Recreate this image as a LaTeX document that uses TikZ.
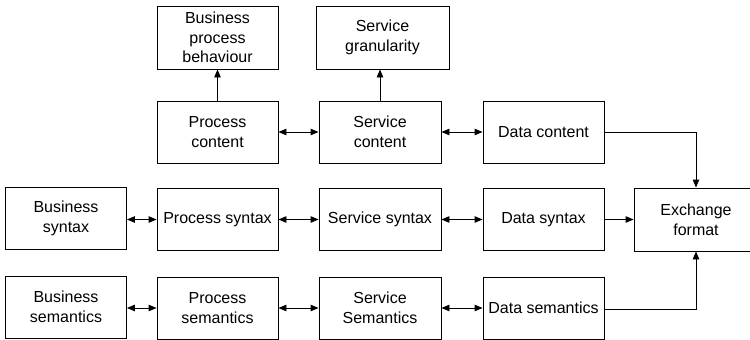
\documentclass[tikz,border=0pt]{standalone}
\usepackage{fontspec}
\setmainfont{Liberation Sans}
\usetikzlibrary{arrows.meta}

\begin{document}
\begin{tikzpicture}[x=1pt,y=-1pt,
  box/.style={draw, line width=0.9pt, inner sep=0pt, align=center,
    minimum width=121pt, minimum height=62pt,
    font=\fontsize{16}{19.6}\selectfont},
  link/.style={line width=0.9pt, {Triangle[length=8pt,width=6.5pt]}-{Triangle[length=8pt,width=6.5pt]}},
  feed/.style={line width=0.9pt, -{Triangle[length=8pt,width=6.5pt]}}]
  \useasboundingbox (0,0) rectangle (750,340);
  \clip (0,0) rectangle (750,340);

  % top row
  \node[box, minimum height=63pt] (bpb) at (217.5,37.5) {Business\\process\\behaviour};
  \node[box, minimum width=133pt, minimum height=63pt] (sg) at (382.5,37.5) {Service\\granularity};

  % content row
  \node[box] (pc) at (217.5,132) {Process\\content};
  \node[box, minimum width=122pt] (sc) at (380,132) {Service\\content};
  \node[box] (dc) at (543.5,132) {Data content};

  % syntax row
  \node[box] (bsy) at (66,218.5) {Business\\syntax};
  \node[box] (psy) at (217.5,219.5) {Process syntax};
  \node[box, minimum width=122pt] (ssy) at (380,219.5) {Service syntax};
  \node[box] (dsy) at (543.5,219.5) {Data syntax};
  \node[box, minimum width=124pt, minimum height=63pt] (ex) at (696,219.5) {Exchange\\format};

  % semantics row
  \node[box] (bse) at (66,307) {Business\\semantics};
  \node[box] (pse) at (217.5,308) {Process\\semantics};
  \node[box, minimum width=122pt] (sse) at (380,308) {Service\\Semantics};
  \node[box] (dse) at (543.5,308) {Data semantics};

  % upward links
  \draw[feed] (pc.north) -- (pc.north |- bpb.south);
  \draw[feed] (sc.north) -- (sc.north |- sg.south);

  % content links
  \draw[link] (pc.east) -- (sc.west);
  \draw[link] (sc.east) -- (dc.west);
  \draw[feed] (dc.east) -| (ex.north);

  % syntax links
  \draw[link] (bsy.east |- psy.center) -- (psy.west);
  \draw[link] (psy.east) -- (ssy.west);
  \draw[link] (ssy.east) -- (dsy.west);
  \draw[feed] (dsy.east) -- (ex.west);

  % semantics links
  \draw[link] (bse.east |- pse.center) -- (pse.west);
  \draw[link] (pse.east) -- (sse.west);
  \draw[link] (sse.east) -- (dse.west);
  \draw[feed] ([yshift=-1pt]dse.east) -| (ex.south);
\end{tikzpicture}
\end{document}
